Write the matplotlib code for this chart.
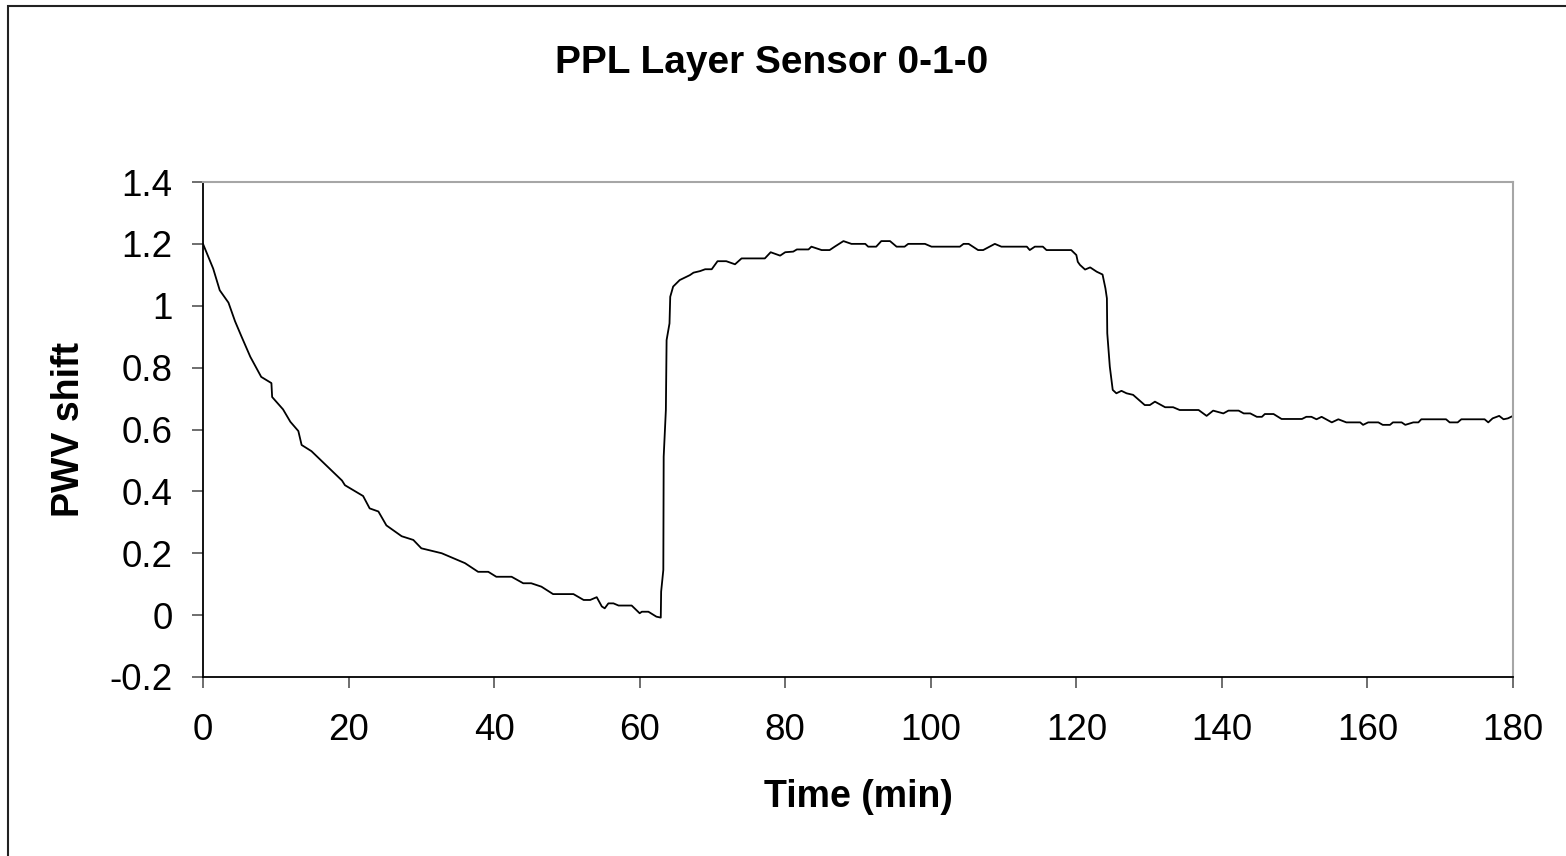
import matplotlib.pyplot as plt
from matplotlib.patches import Rectangle

# sensor trace: time in minutes and PWV shift
time_min = [
    0, 1.4, 2.3, 3.5, 4.4, 5.3, 6.5, 8.0, 9.4, 9.5, 11.0, 12.0, 13.1, 13.55,
    14.9, 19.1, 19.5, 22.0, 22.9, 24.1, 25.2, 27.3, 28.9, 30.0, 32.8, 36.0,
    37.8, 39.2, 40.3, 42.4, 44.0, 45.1, 46.5, 48.1, 50.9, 52.3, 53.2, 54.1,
    54.8, 55.2, 55.7, 56.4, 57.1, 58.9, 60.0, 60.3, 61.2, 62.3, 62.9, 62.95,
    63.25, 63.3, 63.6, 63.7, 64.1, 64.2, 64.6, 65.5, 66.9, 67.4, 68.3, 69.0,
    69.9, 70.7, 71.9, 73.1, 74.0, 77.2, 78.0, 79.3, 80.0, 81.1, 81.6, 83.2,
    83.6, 85.0, 86.1, 86.8, 88.0, 89.1, 91.0, 91.4, 92.5, 93.2, 94.4, 95.3,
    96.4, 96.9, 99.2, 100.1, 104.0, 104.5, 105.2, 106.5, 107.2, 108.8, 109.7,
    113.2, 113.6, 114.3, 115.4, 115.9, 119.3, 120.0, 120.2, 120.5, 121.2,
    121.9, 122.8, 123.6, 124.0, 124.2, 124.25, 124.6, 125.0, 125.5, 126.2,
    126.9, 127.8, 129.4, 130.1, 130.8, 132.2, 133.3, 134.2, 136.8, 137.9,
    138.8, 140.2, 140.9, 142.3, 143.0, 143.9, 144.8, 145.5, 145.9, 147.1,
    148.2, 151.0, 151.6, 152.3, 153.0, 153.7, 155.1, 156.0, 157.1, 159.0,
    159.4, 160.1, 161.5, 162.1, 163.1, 163.5, 164.7, 165.2, 166.3, 167.0,
    167.4, 170.8, 171.3, 172.4, 172.9, 176.1, 176.6, 177.2, 178.1, 178.7,
    179.3, 180.0,
]
pwv_shift = [
    1.20, 1.12, 1.05, 1.01, 0.95, 0.90, 0.835, 0.77, 0.75, 0.705, 0.665, 0.625,
    0.595, 0.55, 0.53, 0.435, 0.42, 0.385, 0.345, 0.335, 0.29, 0.255, 0.243,
    0.216, 0.20, 0.168, 0.14, 0.14, 0.124, 0.124, 0.103, 0.103, 0.092, 0.068,
    0.068, 0.049, 0.049, 0.058, 0.028, 0.022, 0.038, 0.038, 0.031, 0.031,
    0.006, 0.011, 0.011, -0.005, -0.008, 0.076, 0.146, 0.512, 0.663, 0.889,
    0.943, 1.029, 1.062, 1.083, 1.099, 1.107, 1.112, 1.118, 1.118, 1.144,
    1.144, 1.134, 1.153, 1.153, 1.173, 1.162, 1.173, 1.175, 1.182, 1.182,
    1.191, 1.18, 1.18, 1.191, 1.209, 1.20, 1.20, 1.191, 1.191, 1.209, 1.209,
    1.191, 1.191, 1.20, 1.20, 1.191, 1.191, 1.20, 1.20, 1.18, 1.18, 1.20,
    1.191, 1.191, 1.18, 1.191, 1.191, 1.18, 1.18, 1.164, 1.142, 1.132, 1.117,
    1.124, 1.11, 1.101, 1.056, 1.024, 0.911, 0.803, 0.728, 0.717, 0.725,
    0.717, 0.712, 0.679, 0.679, 0.69, 0.672, 0.672, 0.663, 0.663, 0.644,
    0.661, 0.652, 0.661, 0.661, 0.652, 0.652, 0.641, 0.641, 0.65, 0.65,
    0.634, 0.634, 0.641, 0.641, 0.633, 0.641, 0.623, 0.633, 0.623, 0.623,
    0.615, 0.623, 0.623, 0.615, 0.615, 0.623, 0.623, 0.615, 0.623, 0.623,
    0.633, 0.633, 0.623, 0.623, 0.633, 0.633, 0.623, 0.636, 0.644, 0.633,
    0.636, 0.644,
]
x_ticks = [0, 20, 40, 60, 80, 100, 120, 140, 160, 180]
y_ticks = [-0.2, 0, 0.2, 0.4, 0.6, 0.8, 1, 1.2, 1.4]
y_tick_labels = ["-0.2", "0", "0.2", "0.4", "0.6", "0.8", "1", "1.2", "1.4"]

plt.rcParams['font.family'] = ['Liberation Sans', 'DejaVu Sans']

W, H = 1566, 856
fig = plt.figure(figsize=(W / 100, H / 100), dpi=100)
ax = fig.add_axes([203 / W, 1 - 677 / H, (1513 - 203) / W, (677 - 182) / H])

ax.plot(time_min, pwv_shift, color='black', lw=1.3)

ax.set_xlim(0, 180)
ax.set_ylim(-0.2, 1.4)
ax.set_xticks(x_ticks)
ax.set_yticks(y_ticks)
ax.set_yticklabels(y_tick_labels)
ax.tick_params(axis='both', direction='out', length=8, width=1.2,
               labelsize=26.5, color='#555555')
ax.tick_params(axis='y', pad=14)
ax.tick_params(axis='x', pad=18)

for side in ('left', 'bottom'):
    ax.spines[side].set_color('black')
    ax.spines[side].set_linewidth(1.3)
for side in ('top', 'right'):
    ax.spines[side].set_color('#a6a6a6')
    ax.spines[side].set_linewidth(1.5)

ax.set_xlabel('Time (min)', fontsize=27, fontweight='bold', labelpad=22)
ax.set_ylabel('PWV shift', fontsize=27, fontweight='bold', labelpad=16)

fig.text(772 / W, 1 - 63 / H, 'PPL Layer Sensor 0-1-0', fontsize=28,
         fontweight='bold', ha='center', va='center')

# chart-area border
fig.patches.append(Rectangle((8 / W, -0.05), 1.1, 1 - 6 / H + 0.05,
                             transform=fig.transFigure, fill=False,
                             edgecolor='#222222', lw=1.5))

fig.savefig('out.png', dpi=100)
